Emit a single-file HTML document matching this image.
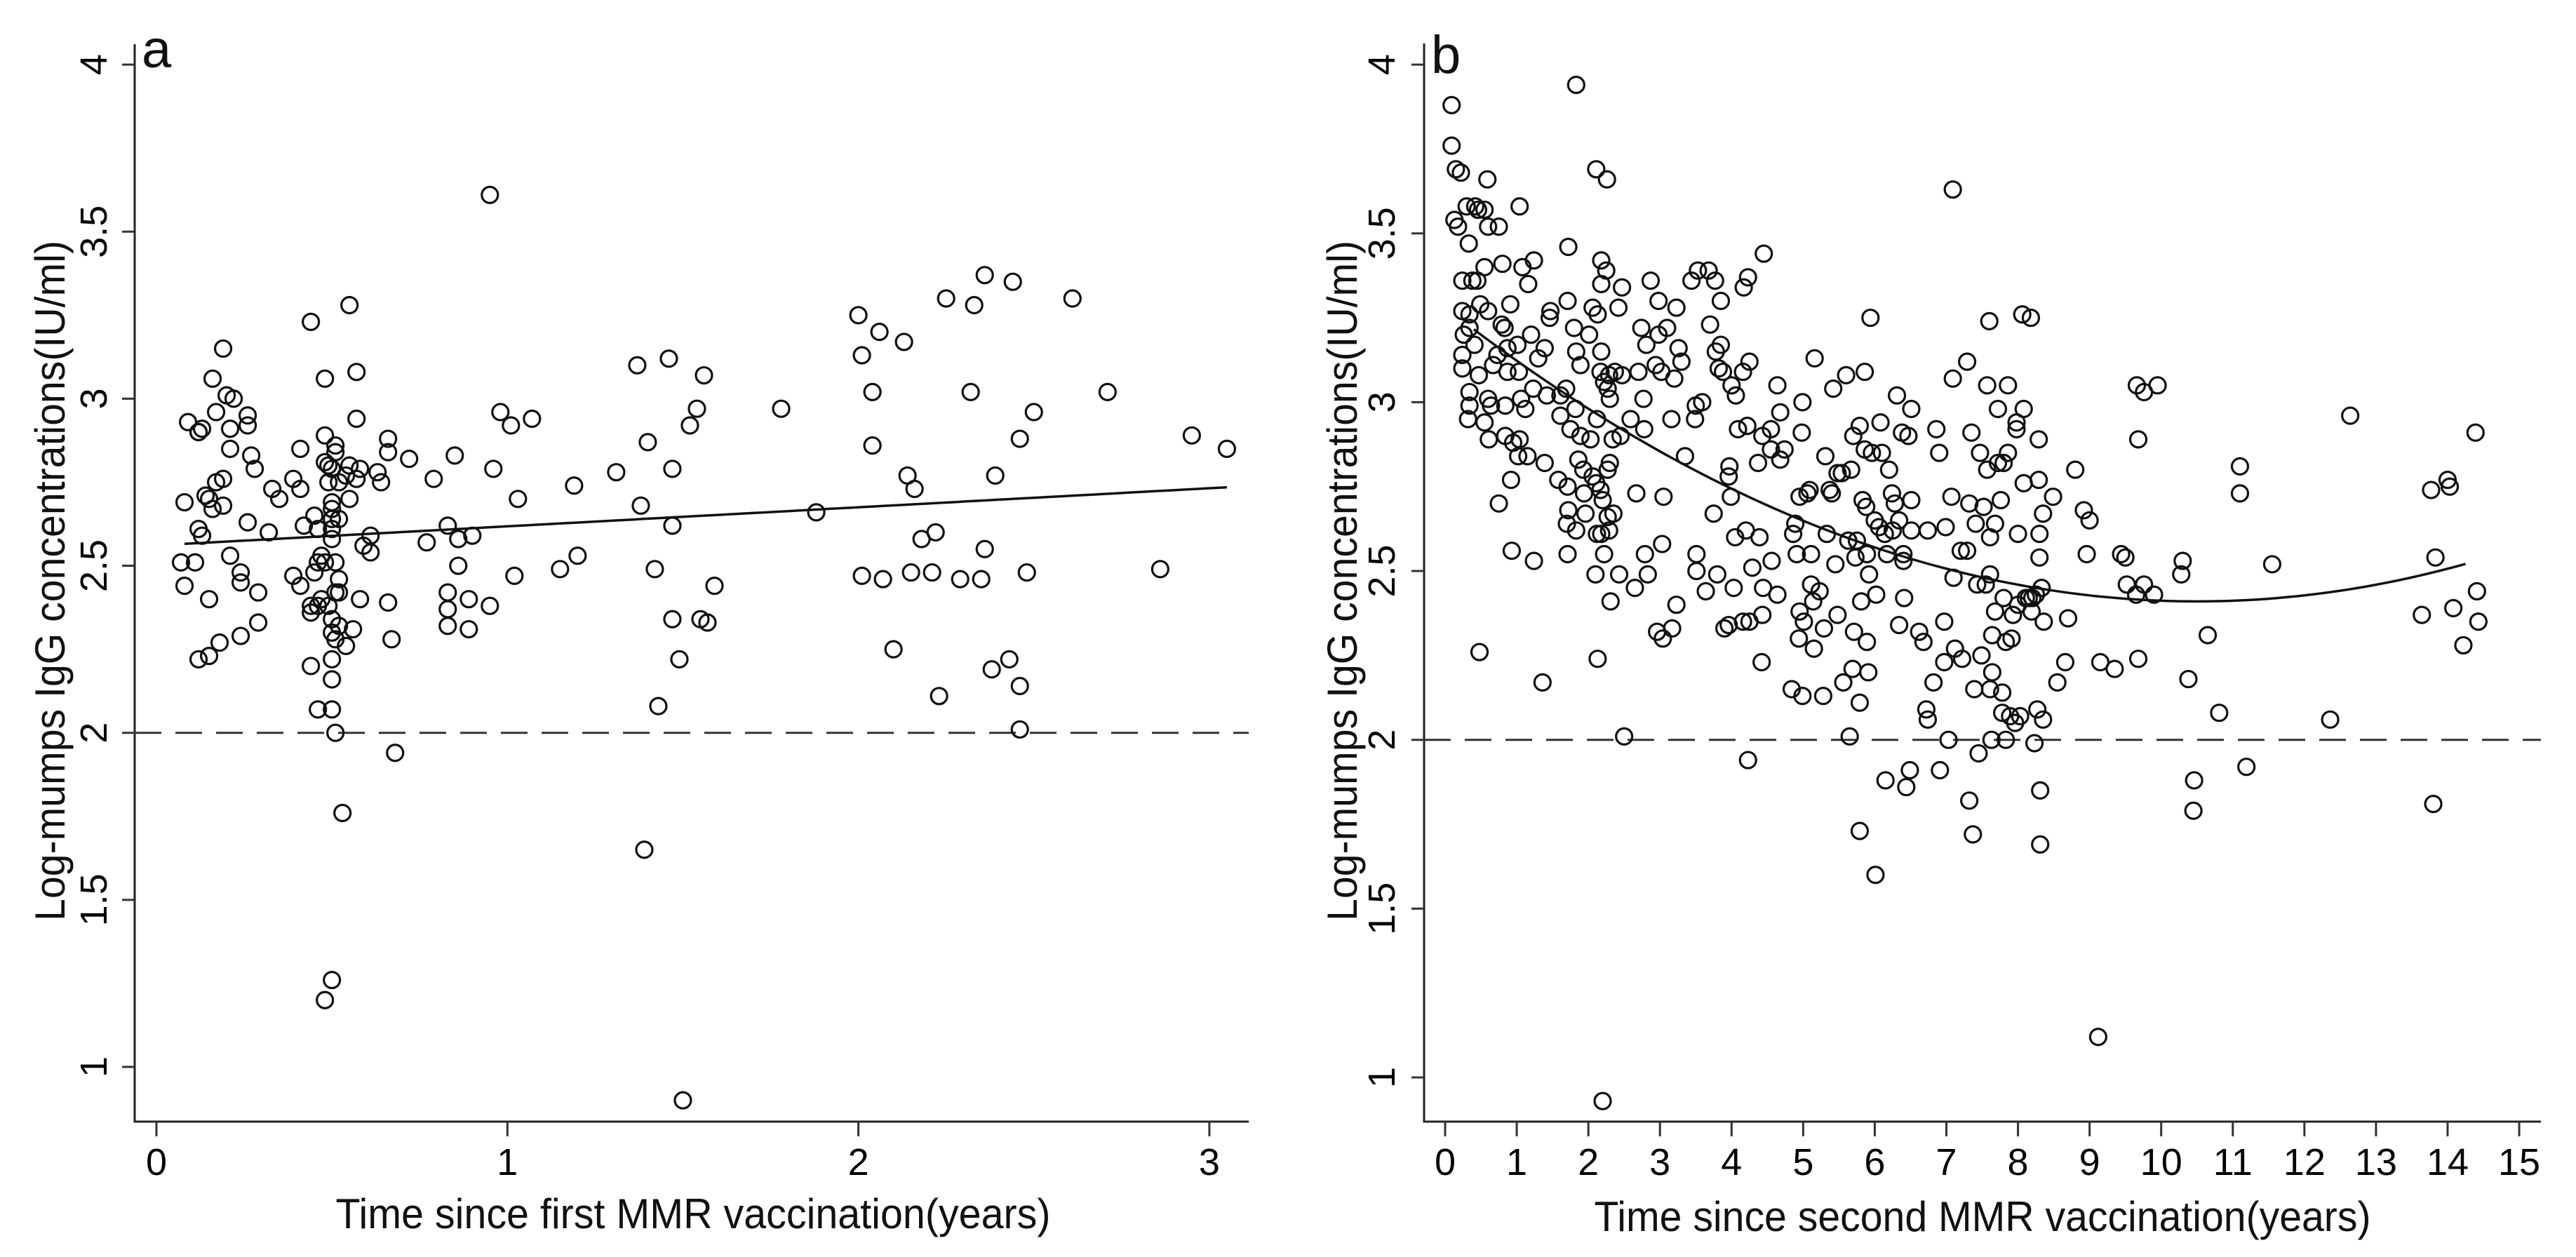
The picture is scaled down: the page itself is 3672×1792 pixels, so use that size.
<!DOCTYPE html>
<html><head><meta charset="utf-8">
<style>
html,body{margin:0;padding:0;background:#fff;}
svg{display:block;font-family:"Liberation Sans",Arial,sans-serif;}
</style></head>
<body>
<svg id="chart" width="3672" height="1792" viewBox="0 0 3672 1792" xmlns="http://www.w3.org/2000/svg">
<rect width="3672" height="1792" fill="#fff"/>
<g id="panelA"></g>
<g id="panelB"></g>
</svg>
<script>
// Panel a data
const aX = [0.09,0.12,0.12,0.13,0.08,0.07,0.11,0.08,0.12,0.13,0.15,0.12,0.15,0.18,0.14,0.15,0.16,0.17,0.19,0.19,0.21,0.21,0.22,0.20,0.19,0.16,0.17,0.21,0.24,0.24,0.26,0.26,0.26,0.27,0.28,0.29,0.29,0.24,0.32,0.33,0.35,0.39,0.41,0.39,0.41,0.41,0.44,0.42,0.44,0.45,0.46,0.46,0.44,0.44,0.45,0.46,0.46,0.47,0.47,0.48,0.48,0.48,0.49,0.48,0.49,0.49,0.50,0.50,0.50,0.50,0.50,0.50,0.51,0.50,0.50,0.50,0.50,0.50,0.51,0.51,0.51,0.51,0.51,0.52,0.52,0.52,0.52,0.52,0.53,0.54,0.54,0.55,0.55,0.55,0.56,0.57,0.57,0.57,0.58,0.58,0.59,0.61,0.61,0.63,0.64,0.66,0.66,0.66,0.67,0.68,0.72,0.48,0.50,0.77,0.79,0.83,0.83,0.83,0.83,0.85,0.86,0.86,0.89,0.90,0.89,0.95,0.95,0.96,0.98,1.01,1.02,1.03,1.07,1.15,1.19,1.20,1.31,1.37,1.38,1.40,1.42,1.43,1.46,1.47,1.47,1.47,1.49,1.39,1.50,1.52,1.54,1.55,1.56,1.57,1.59,1.78,1.88,2.00,2.01,2.01,2.04,2.04,2.06,2.07,2.10,2.13,2.14,2.15,2.16,2.18,2.22,2.21,2.23,2.25,2.29,2.33,2.32,2.35,2.36,2.36,2.38,2.39,2.43,2.44,2.46,2.46,2.46,2.48,2.50,2.61,2.71,2.86,2.95,3.05];
const aY = [2.93,2.90,2.90,2.91,2.69,2.51,2.51,2.44,2.61,2.59,2.40,2.22,2.23,2.27,2.71,2.70,2.67,2.75,2.76,2.68,2.85,2.91,3.00,3.01,3.15,3.06,2.96,2.53,2.48,2.45,2.63,2.95,2.92,2.83,2.79,2.42,2.33,2.29,2.60,2.73,2.70,2.76,2.73,2.47,2.44,2.85,3.23,2.62,2.20,2.48,2.38,2.07,2.36,2.38,2.65,2.61,2.51,2.53,2.40,3.06,2.89,2.81,2.38,2.51,2.75,2.80,2.69,2.67,2.61,2.64,2.79,2.58,2.51,2.34,2.30,2.22,2.16,2.07,2.00,2.84,2.86,2.42,2.28,2.32,2.46,2.42,2.75,2.64,1.76,2.26,2.77,2.80,2.70,3.28,2.31,3.08,2.94,2.76,2.79,2.40,2.56,2.54,2.59,2.78,2.75,2.88,2.84,2.39,2.28,1.94,2.82,1.20,1.26,2.57,2.76,2.62,2.42,2.37,2.32,2.83,2.50,2.58,2.40,2.59,2.31,2.38,3.61,2.79,2.96,2.92,2.47,2.70,2.94,2.49,2.74,2.53,2.78,3.10,2.68,2.87,2.49,2.08,3.12,2.79,2.62,2.34,2.22,1.65,0.90,2.92,2.97,2.34,3.07,2.33,2.44,2.97,2.66,3.25,3.13,2.47,3.02,2.86,3.20,2.46,2.25,3.17,2.77,2.48,2.73,2.58,2.60,2.48,2.11,3.30,2.46,3.28,3.02,2.46,2.55,3.37,2.19,2.77,2.22,3.35,2.88,2.14,2.01,2.48,2.96,3.30,3.02,2.49,2.89,2.85];
const aFit = [2.561, 0.057]; // intercept, slope
const aFitRange = [0.08, 3.05];
const aXTicks = [0,1,2,3];
const aYTicks = [1,1.5,2,2.5,3,3.5,4];
const aYTickLabels = ["1","1.5","2","2.5","3","3.5","4"];

// Panel b data
const bX = [0.09,0.09,0.15,0.22,0.13,0.18,0.30,0.42,0.55,0.60,0.59,0.46,0.75,1.04,0.33,0.24,0.38,0.45,0.55,0.80,0.91,1.08,1.16,1.24,0.24,0.34,0.49,0.60,0.34,0.24,0.24,0.34,0.34,0.32,0.47,0.60,0.64,0.61,0.55,0.73,0.79,0.83,0.87,0.87,0.84,1.01,1.03,1.06,0.95,1.02,1.04,1.15,0.92,0.75,0.93,0.48,1.24,1.36,1.12,1.23,1.30,1.39,1.39,1.42,1.46,1.47,1.61,1.61,1.69,1.71,1.72,1.75,1.71,1.72,1.70,1.71,1.83,1.80,1.83,1.89,1.82,1.86,1.89,1.94,1.83,2.01,2.06,2.11,2.26,2.18,2.25,2.18,2.13,2.18,2.17,2.22,2.27,2.29,2.37,2.30,2.12,2.03,2.06,2.11,2.17,2.20,2.27,2.35,2.30,2.34,2.12,2.18,2.29,2.10,2.22,2.31,2.42,2.47,2.47,2.45,2.43,2.59,2.65,2.67,2.70,2.74,2.77,2.78,2.81,2.79,2.83,2.87,2.94,2.98,2.98,3.02,3.05,3.03,2.96,3.04,3.17,3.10,3.16,3.20,3.23,3.26,3.30,3.35,3.23,3.44,3.49,3.50,3.51,3.51,3.53,3.59,3.64,3.68,3.70,3.75,3.77,3.78,3.82,3.80,3.85,3.85,3.88,3.90,3.96,3.97,3.96,3.99,4.00,4.06,4.05,4.03,4.09,4.16,4.17,4.23,4.25,4.23,4.16,4.25,4.22,4.20,4.29,4.37,4.45,4.43,4.42,4.43,4.39,4.44,4.55,4.55,4.56,4.64,4.64,4.68,4.68,4.74,4.84,4.86,4.89,4.91,4.95,4.98,4.99,4.95,4.94,4.99,5.01,5.06,5.09,5.11,5.11,5.14,5.15,5.16,5.23,5.28,5.29,5.31,5.33,5.37,5.40,5.42,5.45,5.48,5.48,5.54,5.60,5.56,5.63,5.65,5.67,5.69,5.70,5.75,5.71,5.73,5.79,5.79,5.79,5.83,5.81,5.86,5.86,5.88,5.89,5.89,5.91,5.92,5.94,5.96,6.01,6.02,6.00,6.06,6.08,6.10,6.14,6.15,6.17,6.20,6.24,6.25,6.28,6.31,6.34,6.34,6.38,6.40,6.40,6.41,6.44,6.47,6.49,6.51,6.51,6.51,6.62,6.68,6.72,6.74,6.74,6.82,6.86,6.90,6.91,6.97,6.99,6.97,7.03,7.07,7.09,7.09,7.10,7.12,7.20,7.22,7.29,7.29,7.32,7.32,7.35,7.37,7.39,7.41,7.43,7.47,7.45,7.49,7.52,7.55,7.57,7.57,7.60,7.61,7.61,7.61,7.63,7.64,7.64,7.68,7.68,7.72,7.72,7.76,7.78,7.78,7.80,7.80,7.83,7.83,7.86,7.86,7.89,7.91,7.93,7.96,7.98,7.98,8.00,8.00,8.03,8.06,8.08,8.08,8.11,8.15,8.18,8.19,8.20,8.23,8.25,8.27,8.30,8.30,8.29,8.29,8.31,8.33,8.31,8.35,8.35,8.36,8.49,8.55,8.66,8.70,8.80,8.92,8.96,9.00,9.12,9.15,9.35,9.44,9.50,9.52,9.65,9.66,9.68,9.68,9.76,9.76,9.90,9.95,10.28,10.30,10.38,10.46,10.45,10.65,10.81,11.10,11.10,11.19,11.55,12.36,12.64,13.64,13.77,13.83,13.80,14.00,14.03,14.08,14.22,14.39,14.41,14.43,2.20,2.50,2.13,2.27,0.84,0.26,0.41,0.67,1.20,1.58,1.93,1.96];
const bY = [3.88,3.76,3.69,3.68,3.54,3.52,3.58,3.58,3.57,3.52,3.66,3.57,3.52,3.58,3.47,3.36,3.36,3.36,3.40,3.41,3.29,3.40,3.35,3.42,3.27,3.26,3.29,3.27,3.22,3.14,3.10,3.03,2.99,2.95,3.08,3.01,2.99,2.89,2.94,3.14,3.23,3.22,3.16,3.09,2.99,3.17,3.09,3.01,2.88,2.84,2.89,2.84,2.77,2.70,2.56,2.26,2.53,2.17,2.98,3.04,3.13,3.16,2.82,3.02,3.25,3.27,2.96,3.02,3.04,3.30,3.46,2.92,2.75,2.68,2.64,2.55,3.94,3.22,3.15,3.11,2.98,2.83,2.90,2.73,2.62,3.20,3.28,3.69,3.66,3.42,3.39,3.35,3.26,3.15,3.09,3.06,3.04,3.08,3.09,3.01,2.95,2.89,2.78,2.76,2.74,2.71,2.66,2.67,2.82,2.89,2.61,2.61,2.62,2.49,2.55,2.41,3.28,3.34,3.08,2.90,2.49,2.95,2.45,2.73,3.09,3.22,3.01,2.92,3.17,2.55,2.49,3.36,3.11,3.30,3.20,3.09,2.72,2.58,2.32,2.30,2.33,3.22,2.95,3.07,3.28,3.16,3.12,2.84,2.40,3.36,2.95,2.99,2.50,2.55,3.39,3.00,2.44,3.39,3.23,2.67,3.36,3.15,3.10,2.49,3.30,3.17,3.09,2.33,2.34,2.81,2.78,2.72,3.05,3.02,2.60,2.45,2.92,3.09,3.34,3.37,3.12,1.94,2.35,2.35,2.93,2.62,2.51,2.82,3.44,2.90,2.23,2.37,2.60,2.45,2.92,2.86,2.53,3.05,2.43,2.83,2.97,2.86,2.15,2.61,2.64,2.55,2.72,2.91,3.00,2.38,2.30,2.13,2.35,2.73,2.74,2.55,2.46,2.41,2.27,3.13,2.44,2.13,2.33,2.84,2.61,2.74,2.73,3.04,2.52,2.37,2.79,2.79,3.08,2.17,2.59,2.01,2.80,2.21,2.90,2.59,2.32,2.54,2.11,1.73,2.93,2.71,2.41,3.09,2.86,2.69,2.55,2.29,2.20,2.49,3.25,2.85,1.60,2.43,2.65,2.63,2.94,2.85,2.61,1.88,2.55,2.80,2.73,2.62,2.70,3.02,2.34,2.65,2.91,2.55,2.53,2.42,1.86,2.90,1.91,2.98,2.71,2.62,2.32,2.29,2.09,2.06,2.62,2.17,2.92,2.85,1.91,2.35,2.63,2.23,2.00,2.72,3.07,3.63,2.48,2.27,2.56,2.24,3.12,2.56,1.82,2.70,2.91,1.72,2.15,2.64,2.46,2.85,1.96,2.25,2.69,2.46,3.05,2.80,3.24,2.60,2.49,2.15,2.00,2.31,2.20,2.38,2.64,2.82,2.98,2.71,2.14,2.08,2.42,2.82,2.00,2.29,3.05,2.85,2.07,2.30,2.37,2.05,2.94,2.92,2.61,2.40,2.07,3.26,2.98,2.76,2.42,2.42,3.25,2.38,2.42,1.99,2.43,2.09,2.54,2.61,2.89,2.77,1.85,2.45,1.69,2.06,2.67,2.35,2.72,2.17,2.23,2.36,2.80,2.68,2.55,2.65,1.12,2.23,2.21,2.55,2.54,2.46,2.43,3.05,2.89,2.24,3.03,2.46,2.43,3.05,2.49,2.53,2.18,1.88,1.79,2.31,2.08,2.81,2.73,1.92,2.52,2.06,2.96,2.37,2.74,2.54,1.81,2.77,2.75,2.39,2.28,2.91,2.44,2.35,0.93,2.01,2.24,2.80,2.90,3.20,3.17,3.11,3.20,2.77,2.80,2.67];
const bFit = [3.281, -0.1659, 0.0079]; // c0, c1, c2
const bFitRange = [0.4, 14.25];
const bXTicks = [0,1,2,3,4,5,6,7,8,9,10,11,12,13,14,15];
const bYTicks = [1,1.5,2,2.5,3,3.5,4];
const bYTickLabels = ["1","1.5","2","2.5","3","3.5","4"];
const threshold = [2];

const NS = "http://www.w3.org/2000/svg";
function mk(parent, tag, attrs, text) {
  const e = document.createElementNS(NS, tag);
  for (const k in attrs) e.setAttribute(k, attrs[k]);
  if (text !== undefined) e.textContent = text;
  parent.appendChild(e);
  return e;
}

function drawPanel(g, cfg) {
  const X = v => cfg.x0 + cfg.xs * v;
  const Y = v => cfg.y1 - cfg.ys * (v - 1);
  const ax = mk(g, "path", {d:`M${cfg.left},${cfg.top} V${cfg.bottom} H${cfg.right}`, fill:"none", stroke:"#222", "stroke-width":3});
  
  
  cfg.yTicks.forEach((v, i) => {
    const t = mk(g, "line", {x1:cfg.left-18, x2:cfg.left, y1:Y(v), y2:Y(v), stroke:"#333", "stroke-width":3});
    
    
    const l = mk(g, "text", {transform:`translate(${cfg.yLabX},${Y(v)}) rotate(-90)`, "text-anchor":"middle", "font-size":54, fill:"#000"}, cfg.yLabels[i]);
    
    
  });
  cfg.xTicks.forEach(v => {
    const t = mk(g, "line", {x1:X(v), x2:X(v), y1:cfg.bottom, y2:cfg.bottom+21, stroke:"#333", "stroke-width":3});
    
    
    const l = mk(g, "text", {x:X(v), y:1675, "text-anchor":"middle", "font-size":54, fill:"#000"}, String(v));
    
    
  });
  const d = mk(g, "line", {x1:cfg.left, x2:cfg.right, y1:Y(threshold[0]), y2:Y(threshold[0]), stroke:"#333", "stroke-width":3, "stroke-dasharray":"38 20"});
  
  
  cfg.xs_.forEach((xv, i) => {
    const c = mk(g, "circle", {cx:X(xv), cy:Y(cfg.ys_[i]), r:11.5, fill:"none", stroke:"#111", "stroke-width":3.2});
    
    
  });
  let pts = [];
  for (let k = 0; k <= 100; k++) {
    const xv = cfg.fitRange[0] + (cfg.fitRange[1]-cfg.fitRange[0]) * k / 100;
    let yv = 0;
    cfg.fit.forEach((c, p) => { yv += c * Math.pow(xv, p); });
    pts.push(X(xv).toFixed(1) + "," + Y(yv).toFixed(1));
  }
  const f = mk(g, "polyline", {points:pts.join(" "), fill:"none", stroke:"#111", "stroke-width":3.5});
  
  
  const yt = mk(g, "text", {transform:`translate(${cfg.yTitleX},828) rotate(-90)`, "text-anchor":"middle", "font-size":60, fill:"#111", textLength:970, lengthAdjust:"spacingAndGlyphs"}, "Log-mumps IgG concentrations(IU/ml)");
  
  
  const xt = mk(g, "text", {x:cfg.xTitleX, y:cfg.xTitleY, "text-anchor":"middle", "font-size":60, fill:"#111", textLength:cfg.xTitleLen, lengthAdjust:"spacingAndGlyphs"}, cfg.xTitle);
  
  
  const pl = mk(g, "text", {x:cfg.left+10, y:cfg.labY, "font-size":76, fill:"#111"}, cfg.label);
  
  
}

drawPanel(document.getElementById("panelA"), {
  x0:223, xs:500.3, y1:1521, ys:476.3, left:192, right:1780, top:63, bottom:1599,
  yTicks:aYTicks, yLabels:aYTickLabels, xTicks:aXTicks, yLabX:152,
  xs_:aX, ys_:aY, fit:aFit, fitRange:aFitRange, yTitleX:92,
  xTitleX:988, xTitleY:1751, xTitleLen:1019, xTitle:"Time since first MMR vaccination(years)",
  label:"a", labY:96
});
drawPanel(document.getElementById("panelB"), {
  x0:2060, xs:102.07, y1:1536, ys:481.3, left:2030, right:3622, top:62, bottom:1599,
  yTicks:bYTicks, yLabels:bYTickLabels, xTicks:bXTicks, yLabX:1988,
  xs_:bX, ys_:bY, fit:bFit, fitRange:bFitRange, yTitleX:1934,
  xTitleX:2826, xTitleY:1755, xTitleLen:1107, xTitle:"Time since second MMR vaccination(years)",
  label:"b", labY:104
});
</script>
</body></html>
